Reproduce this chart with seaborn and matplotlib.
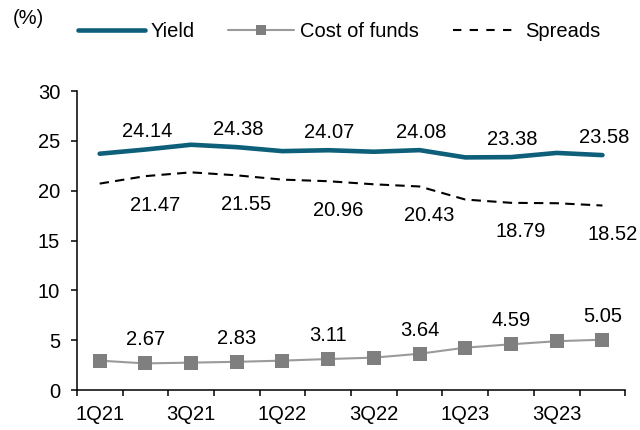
import numpy as np
import pandas as pd
import matplotlib
matplotlib.use("Agg")
import matplotlib.pyplot as plt
from matplotlib.ticker import FixedLocator, NullFormatter, FixedFormatter
from matplotlib.lines import Line2D
import seaborn as sns

# Quarterly yield, cost of funds and spreads (%)
quarters = ["1Q21", "2Q21", "3Q21", "4Q21", "1Q22", "2Q22",
            "3Q22", "4Q22", "1Q23", "2Q23", "3Q23", "4Q23"]
yield_pct = [23.72, 24.14, 24.62, 24.38, 23.98, 24.07,
             23.92, 24.08, 23.35, 23.38, 23.80, 23.58]
cost_of_funds = [2.95, 2.67, 2.75, 2.83, 2.95, 3.11,
                 3.25, 3.64, 4.25, 4.59, 4.90, 5.05]
spreads = [20.72, 21.47, 21.85, 21.55, 21.12, 20.96,
           20.65, 20.43, 19.12, 18.79, 18.75, 18.52]
labelled = ["2Q21", "4Q21", "2Q22", "4Q22", "2Q23", "4Q23"]
axis_labels = ["1Q21", "3Q21", "1Q22", "3Q22", "1Q23", "3Q23"]

sns.set_theme(style="white")
plt.rcParams["font.family"] = ["Liberation Sans", "DejaVu Sans"]
plt.rcParams["text.color"] = "black"
FS = 14.5

pos = np.arange(len(quarters))
df = pd.DataFrame({"pos": pos, "quarter": quarters, "Yield": yield_pct,
                   "Cost of funds": cost_of_funds, "Spreads": spreads})

YIELD_C = "#0d5f7a"
COST_LINE = "#9a9a9a"
COST_MARK = "#7f7f7f"

fig = plt.figure(figsize=(6.4, 4.3), dpi=100)
ax = fig.add_axes([0.120, 0.093, 0.857, 0.695])

sns.lineplot(data=df, x="pos", y="Yield", ax=ax, color=YIELD_C,
             linewidth=3.3, solid_capstyle="round")
sns.lineplot(data=df, x="pos", y="Cost of funds", ax=ax, color=COST_LINE,
             linewidth=1.5, marker="s", markersize=10,
             markerfacecolor=COST_MARK, markeredgecolor=COST_MARK,
             markeredgewidth=0)
sns.lineplot(data=df, x="pos", y="Spreads", ax=ax, color="black",
             linewidth=1.5, linestyle=(0, (4.5, 3)))

# value labels on alternate quarters
for q in labelled:
    i = quarters.index(q)
    ax.annotate(f"{yield_pct[i]:.2f}", (pos[i], yield_pct[i]),
                xytext=(1, 13), textcoords="offset points",
                ha="center", va="center", fontsize=FS)
    ax.annotate(f"{cost_of_funds[i]:.2f}", (pos[i], cost_of_funds[i]),
                xytext=(0, 17), textcoords="offset points",
                ha="center", va="center", fontsize=FS)
    ax.annotate(f"{spreads[i]:.2f}", (pos[i], spreads[i]),
                xytext=(7, -21), textcoords="offset points",
                ha="center", va="center", fontsize=FS)

ax.set_xlim(-0.5, len(quarters) - 0.5)
ax.set_ylim(0, 30)
ax.set_yticks(np.arange(0, 31, 5))
ax.set_xlabel("")
ax.set_ylabel("")

# category boundaries carry the tick marks, labels sit on the quarters
ax.xaxis.set_major_locator(FixedLocator(np.arange(-0.5, len(quarters), 1)))
ax.xaxis.set_major_formatter(NullFormatter())
ax.xaxis.set_minor_locator(FixedLocator([quarters.index(q) for q in axis_labels]))
ax.xaxis.set_minor_formatter(FixedFormatter(axis_labels))
ax.tick_params(axis="x", which="major", direction="out", length=4.5,
               width=1.1, color="black", bottom=True)
ax.tick_params(axis="x", which="minor", length=0, pad=11,
               labelsize=FS, labelcolor="black", bottom=True)
ax.tick_params(axis="y", which="major", direction="out", length=4,
               width=1.1, color="black", left=True, pad=8,
               labelsize=FS, labelcolor="black")

for side in ("top", "right"):
    ax.spines[side].set_visible(False)
for side in ("left", "bottom"):
    ax.spines[side].set_color("black")
    ax.spines[side].set_linewidth(1.1)
ax.grid(False)

handles = [
    Line2D([], [], color=YIELD_C, linewidth=3.3, solid_capstyle="round"),
    Line2D([], [], color=COST_LINE, linewidth=1.5, marker="s", markersize=7.5,
           markerfacecolor=COST_MARK, markeredgecolor=COST_MARK,
           markeredgewidth=0),
    Line2D([], [], color="black", linewidth=1.5, linestyle=(0, (4, 4))),
]
fig.legend(handles, ["Yield", "Cost of funds", "Spreads"], ncol=3,
           loc="center left", bbox_to_anchor=(0.122, 0.926),
           frameon=False, fontsize=FS, handlelength=3.3,
           handletextpad=0.3, columnspacing=1.65, borderpad=0,
           borderaxespad=0)

fig.text(0.02, 0.958, "(%)", fontsize=FS, ha="left", va="center")

fig.savefig("out.png", dpi=100)
